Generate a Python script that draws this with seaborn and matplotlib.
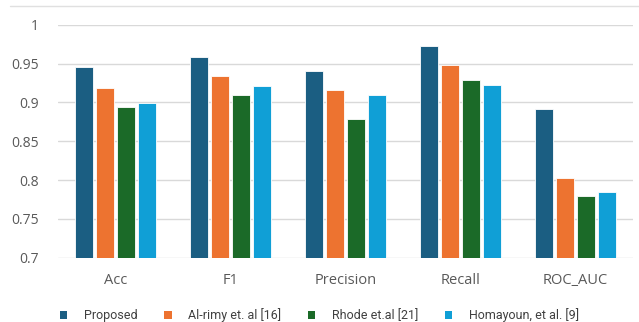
import matplotlib
matplotlib.use("Agg")
import matplotlib.pyplot as plt
import seaborn as sns
import pandas as pd
from matplotlib.patches import Patch
from matplotlib.lines import Line2D

categories = ["Acc", "F1", "Precision", "Recall", "ROC_AUC"]
series = ["Proposed", "Al-rimy et. al [16]", "Rhode et.al [21]", "Homayoun, et al. [9]"]
proposed = [0.945, 0.958, 0.941, 0.973, 0.892]
alrimy = [0.919, 0.934, 0.916, 0.948, 0.802]
rhode = [0.894, 0.910, 0.878, 0.929, 0.779]
homayoun = [0.899, 0.921, 0.909, 0.922, 0.784]
yticks = [0.7, 0.75, 0.8, 0.85, 0.9, 0.95, 1.0]
ytick_labels = ["0.7", "0.75", "0.8", "0.85", "0.9", "0.95", "1"]
colors = ["#1b5e82", "#ed7330", "#1b6a28", "#109fd6"]

rows = []
for s, vals in zip(series, [proposed, alrimy, rhode, homayoun]):
    for c, v in zip(categories, vals):
        rows.append({"Metric": c, "Method": s, "Value": v})
df = pd.DataFrame(rows)

sns.set_theme(style="white")
plt.rcParams["font.family"] = ["Open Sans", "DejaVu Sans"]

fig = plt.figure(figsize=(6.39, 3.22), dpi=100)
ax = fig.add_axes([58/639, 1 - 257.7/322, (633-58)/639, (257.7-24.7)/322])

sns.barplot(data=df, x="Metric", y="Value", hue="Method", palette=colors,
            width=0.73, gap=0.18, edgecolor="white", linewidth=0.6,
            ax=ax, legend=False, saturation=1)

ax.set_ylim(0.7, 1.0)
ax.set_yticks(yticks)
ax.set_yticklabels(ytick_labels)
ax.set_xlim(-0.5, 4.5)
ax.set_xlabel("")
ax.set_ylabel("")
ax.grid(axis="y", color="#d9d9d9", linewidth=1)
ax.set_axisbelow(True)
for sp in ax.spines.values():
    sp.set_visible(False)
ax.tick_params(axis="both", length=0, colors="#595959", labelsize=10)
ax.tick_params(axis="y", pad=14)
ax.tick_params(axis="x", pad=11, labelsize=10.5)
for lbl in ax.get_xticklabels() + ax.get_yticklabels():
    lbl.set_color("#595959")

# faint frame line at top
fig.add_artist(Line2D([10/639, 1.0], [1 - 5.5/322, 1 - 5.5/322], color="#e0e0e0", linewidth=1))

handles = [Patch(facecolor=c, edgecolor="none") for c in colors]
fig.legend(handles, series, loc="center", bbox_to_anchor=(0.5, 1 - 315/322), ncol=4,
           frameon=False, prop={"family": ["Roboto", "DejaVu Sans"], "size": 9},
           handlelength=0.6, handleheight=0.6,
           columnspacing=2.1, handletextpad=1.35, labelcolor="#404040")

fig.savefig("out.png", dpi=100)
